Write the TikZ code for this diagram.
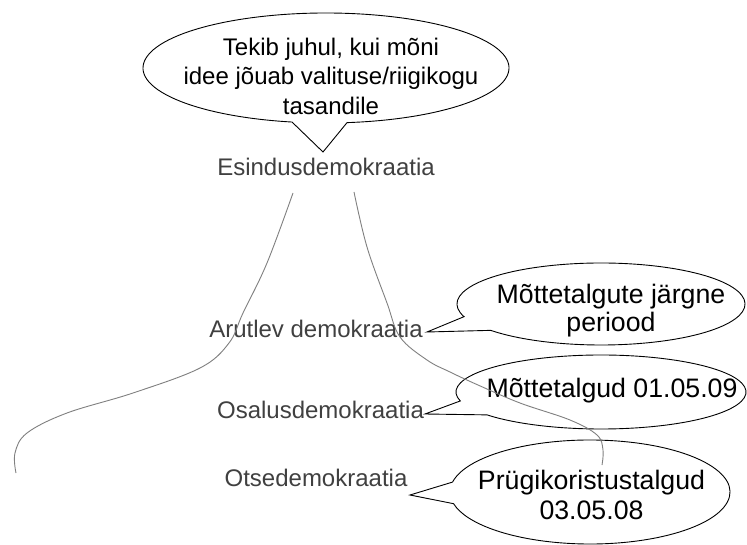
\documentclass[tikz,border=0pt]{standalone}
\usepackage{fontspec}
\setmainfont{Liberation Sans}
\definecolor{labelgray}{HTML}{404040}
\definecolor{curvegray}{HTML}{808080}
\begin{document}
\begin{tikzpicture}[x=1pt,y=-1pt,
  bubble/.style={draw=black, fill=white, line width=0.9pt, line join=miter},
  lbl/.style={text=labelgray, font=\fontsize{24}{28}\selectfont, inner sep=0pt},
  btxt/.style={text=black, align=center, inner sep=0pt},
  curve/.style={draw=curvegray, line width=0.9pt}]
\useasboundingbox[fill=white] (0,0) rectangle (747,545);

% centres and pointer tips
\coordinate (c1) at (326,68);
\coordinate (c2) at (601,304);
\coordinate (c3) at (601,392);
\coordinate (c4) at (590,492);
\coordinate (tip1) at (323,152);
\coordinate (tip2) at (427,332);
\coordinate (tip3) at (425,414);
\coordinate (tip4) at (410,495);

% bubbles
\draw[bubble] (c1) ++(100.7:183 and 55) arc[start angle=100.7, end angle=443.4, x radius=183, y radius=55] -- (tip1) -- cycle;
\draw[bubble] (c2) ++(162:144 and 41) arc[start angle=162, end angle=500, x radius=144, y radius=41] -- (tip2) -- cycle;
\draw[bubble] (c3) ++(166:145 and 37) arc[start angle=166, end angle=501.8, x radius=145, y radius=37] -- (tip3) -- cycle;
\draw[bubble] (c4) ++(191:140 and 52) arc[start angle=191, end angle=527, x radius=140, y radius=52] -- (tip4) -- cycle;

% texts
\node[btxt, font=\fontsize{24}{29.5}\selectfont] (topt) at (331,76) {Tekib juhul, kui mõni\\idee jõuab valituse/riigikogu\\tasandile};
\node[lbl] (esind) at (326,167) {Esindusdemokraatia};
\node[lbl] (arut) at (316,329) {Arutlev demokraatia};
\node[lbl] (osal) at (320.5,410) {Osalusdemokraatia};
\node[lbl] (otse) at (316,478) {Otsedemokraatia};
\node[btxt, font=\fontsize{26.7}{28}\selectfont] (b2t) at (611,311) {Mõttetalgute järgne\\periood};
\node[btxt, font=\fontsize{26.7}{30}\selectfont] (b3t) at (612,391) {Mõttetalgud 01.05.09};
\node[btxt, font=\fontsize{26.7}{30}\selectfont] (b4t) at (591.5,495) {Prügikoristustalgud\\03.05.08};

% curves
\draw[curve] plot[smooth, tension=0.6] coordinates {(293,193) (267,263) (243,313) (229,343) (200,368) (133,393) (67,413) (27,433) (15,453) (16,473)};
\draw[curve] plot[smooth, tension=0.6] coordinates {(354,192) (367,247) (387,303) (400,337) (427,360) (450,372) (478,385) (520,403) (570,420) (597,435) (603,450) (602,465)};
\end{tikzpicture}
\end{document}
